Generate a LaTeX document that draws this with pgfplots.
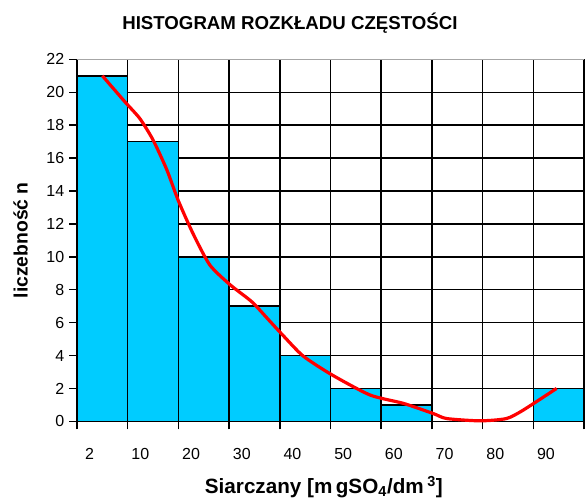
\documentclass[border=0pt]{standalone}
\usepackage{pgfplots}
\pgfplotsset{compat=1.18}
\usepackage{fontspec}
\setmainfont{Liberation Sans}
\definecolor{barblue}{RGB}{0,204,255}
\begin{document}
\begin{tikzpicture}
\begin{axis}[
  at={(0,0)}, anchor=south west,
  scale only axis,
  width=380.25pt, height=271.5pt,
  xmin=0, xmax=10, ymin=0, ymax=22,
  axis x line*=bottom, axis y line*=left,
  axis line style={black, line width=1.1pt},
  ytick={0,2,...,22},
  xtick={0.25,1.25,...,9.25},
  xticklabels={2,10,20,30,40,50,60,70,80,90},
  minor xtick={0,1,...,10},
  xminorgrids, ymajorgrids,
  grid style={black, line width=1.1pt},
  minor grid style={black, line width=1.1pt},
  tick align=outside,
  major tick length=6pt,
  minor tick length=6pt,
  major x tick style={draw=none},
  minor x tick style={black, line width=1.1pt},
  major y tick style={black, line width=1.1pt},
  /pgf/number format/assume math mode=true,
  tick label style={font=\fontsize{12}{14}\selectfont},
  xticklabel style={yshift=-11pt},
  title={\bfseries HISTOGRAM ROZKŁADU CZĘSTOŚCI},
  title style={at={(0.42,1)}, anchor=base, yshift=16.5pt, font=\fontsize{14}{16}\selectfont},
  xlabel={\bfseries Siarczany [m\,gSO\textsubscript{4}/dm\,\textsuperscript{3}]},
  xlabel style={at={(axis description cs:0.487,-0.198)}, anchor=base, font=\fontsize{15.5}{17}\selectfont},
  ylabel={\bfseries liczebność n},
  ylabel style={at={(axis description cs:-0.111,0.5)}, anchor=center, font=\fontsize{14.5}{16}\selectfont},
  clip=false,
]
\addplot[ybar interval, fill=barblue, draw=black, line width=1.1pt]
  coordinates {(0,21)(1,17)(2,10)(3,7)(4,4)(5,2)(6,1)(7,0)(8,0)(9,2)(10,2)};
\addplot[red, line width=2.4pt, smooth, tension=0.4]
  coordinates {(0.5,21.0)(0.95,19.4)(1.24,18.4)(1.5,17.1)(1.77,15.3)(2.0,13.4)(2.29,11.4)(2.62,9.5)(3.02,8.3)(3.45,7.26)(3.8,6.1)(4.07,5.2)(4.46,3.97)(5.02,2.84)(5.78,1.6)(6.44,1.09)(7.03,0.47)(7.29,0.17)(7.95,0.03)(8.47,0.17)(8.8,0.68)(9.46,2.0)};
\draw[gray!70, line width=1.1pt] (rel axis cs:0,1) -- (rel axis cs:1,1);
\end{axis}
\pgfresetboundingbox
\path (-57.75pt,-59.7pt) rectangle (381pt,316pt);
\end{tikzpicture}
\end{document}
